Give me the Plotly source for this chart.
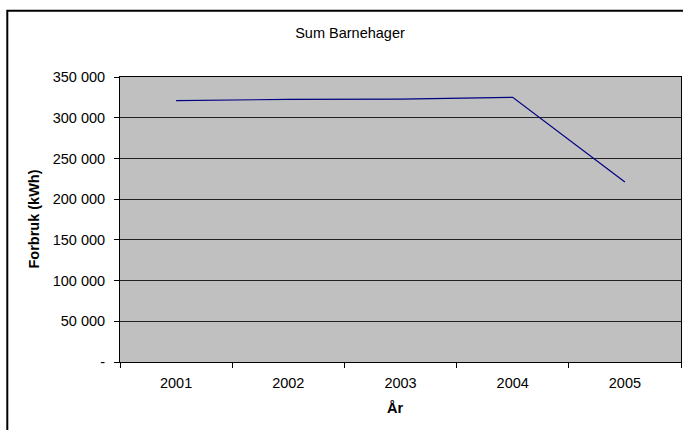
import plotly.graph_objects as go

years = ["2001", "2002", "2003", "2004", "2005"]
forbruk = [321000, 322500, 322800, 325000, 221000]

y_ticks = [0, 50000, 100000, 150000, 200000, 250000, 300000, 350000]
y_ticktext = ["-", "50 000", "100 000", "150 000", "200 000", "250 000", "300 000", "350 000"]

font = "Liberation Sans, Arial, sans-serif"

fig = go.Figure()
fig.add_trace(go.Scatter(x=years, y=forbruk, mode="lines",
                         line=dict(color="#000080", width=1.2), showlegend=False))

fig.update_layout(
    width=683, height=430,
    margin=dict(l=120, r=2, t=77, b=68, autoexpand=False),
    paper_bgcolor="white",
    plot_bgcolor="#C0C0C0",
    font=dict(family=font, size=14.5, color="black"),
    title=dict(text="Sum Barnehager", x=0.41, xref="paper", xanchor="center",
               y=1 - 33 / 430, yref="container", yanchor="middle",
               font=dict(size=14.5)),
)

fig.update_xaxes(
    type="category", range=[-0.5, 4.5], automargin=False,
    showgrid=False, showline=True, linecolor="black", linewidth=1, mirror=True,
    ticks="outside", tickson="boundaries", ticklen=5, tickcolor="black",
    ticklabelstandoff=8,
)
fig.update_yaxes(
    range=[0, 350000], tickvals=y_ticks, ticktext=y_ticktext, automargin=False,
    showgrid=True, gridcolor="#222222", gridwidth=1,
    showline=True, linecolor="black", linewidth=1, mirror=True,
    ticks="outside", ticklen=5, tickcolor="black", zeroline=False,
    ticklabelstandoff=6,
)

fig.add_annotation(text="<b>År</b>", xref="paper", yref="paper", x=0.49, y=-0.16,
                   xanchor="center", yanchor="middle", showarrow=False,
                   font=dict(size=14.5))
fig.add_annotation(text="<b>Forbruk (kWh)</b>", xref="paper", yref="paper",
                   x=-0.155, y=0.5, textangle=-90, xanchor="center", yanchor="middle",
                   showarrow=False, font=dict(size=14.5))

# chart area border like the spreadsheet chart (no right/bottom edge visible)
fig.add_shape(type="rect", xref="paper", yref="paper",
              x0=-0.2009, x1=1.05, y0=-0.3, y1=1.2326,
              line=dict(color="black", width=2), layer="below")

# drop the default body margin so the figure fills the window exactly
fig.write_html("out.html", config={"displayModeBar": False},
               post_script="document.body.style.margin='0';")
